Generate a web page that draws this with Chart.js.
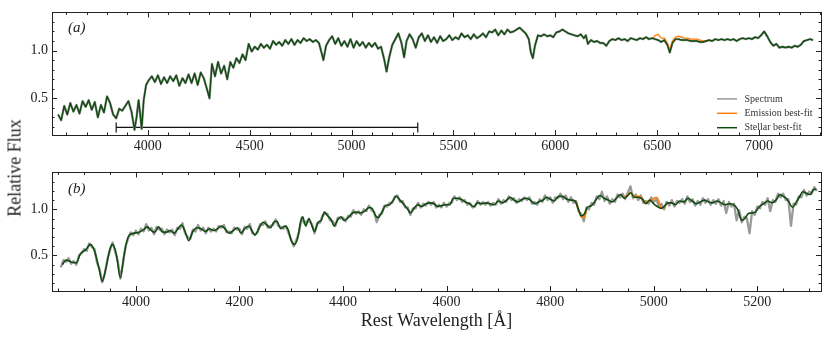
<!DOCTYPE html>
<html>
<head>
<meta charset="utf-8">
<title>Spectrum fit</title>
<script src="https://cdn.jsdelivr.net/npm/chart.js@4.4.1/dist/chart.umd.min.js"></script>
<style>
  body { margin: 0; background: #fff; }
  #wrap { position: relative; width: 830px; height: 341px; font-family: "Liberation Serif", serif; }
  #topBox { position: absolute; left: 0; top: 0; width: 830px; height: 160px; }
  #botBox { position: absolute; left: 0; top: 160px; width: 830px; height: 181px; }
  #ylabel {
    position: absolute; left: 14.5px; top: 168px;
    transform: translate(-50%, -50%) rotate(-90deg);
    font-size: 18px; white-space: nowrap; color: #222;
  }
</style>
</head>
<body>
<div id="wrap">
  <div id="topBox"><canvas id="topChart"></canvas></div>
  <div id="botBox"><canvas id="botChart"></canvas></div>
  <div id="ylabel">Relative Flux</div>
</div>
<script>
// ---- panel (a): full spectrum ----
const topWave = [
  3560, 3575, 3590, 3605, 3620, 3635, 3650, 3665, 3680, 3695, 3710, 3725, 3740, 3755, 3770, 3785, 3800, 3815, 3830, 3845, 3860, 3875, 3890, 3905, 3920,
  3935, 3945, 3955, 3962, 3970, 3980, 3992,
  4005, 4020, 4035, 4050, 4065, 4080, 4095, 4110, 4125, 4140, 4155, 4170, 4185, 4200, 4215, 4230, 4245, 4260, 4275, 4290,
  4303,
  4315, 4330, 4345, 4360, 4375, 4390, 4405, 4420, 4435, 4450, 4465, 4480, 4495, 4510, 4525, 4540, 4555, 4570, 4585, 4600,
  4615, 4630, 4645, 4660, 4675, 4690, 4705, 4720, 4735, 4750, 4765, 4780, 4795, 4810, 4825, 4840,
  4855, 4862, 4875,
  4890, 4905, 4920, 4935, 4950, 4965, 4980, 4995, 5010, 5025, 5040, 5055, 5070, 5085, 5100, 5115, 5130, 5145,
  5160, 5172, 5185, 5200, 5215, 5230, 5245, 5258, 5270, 5285, 5300, 5315,
  5330, 5345, 5360, 5375, 5390, 5405, 5420, 5435, 5450, 5465, 5480, 5495, 5510, 5525, 5540, 5555, 5570, 5585, 5600, 5615,
  5630, 5645, 5660, 5675, 5690, 5705, 5720, 5735, 5750, 5765, 5780, 5795, 5810, 5825, 5840, 5855, 5870,
  5880, 5890, 5900,
  5915, 5930, 5945, 5960, 5975, 5990, 6005, 6020, 6035, 6050, 6065, 6080, 6095, 6110, 6125, 6140,
  6150, 6160,
  6175, 6190, 6205, 6220, 6235, 6250, 6265, 6280, 6295, 6310, 6325, 6340, 6355, 6370, 6385, 6400, 6415, 6430, 6445, 6460, 6475, 6490, 6505, 6520, 6535,
  6550, 6562,
  6575, 6590, 6605, 6620, 6635, 6650, 6665, 6680, 6695, 6710, 6725, 6740, 6755, 6770, 6785, 6800, 6815, 6830, 6845, 6860,
  6875, 6890, 6905, 6920, 6935, 6950, 6965, 6980, 6995, 7010, 7025, 7040, 7055, 7070, 7085, 7100, 7115, 7130, 7145, 7160,
  7175, 7190, 7205, 7220, 7235, 7250, 7265
];
const topFlux = [
  0.33, 0.27, 0.42, 0.33, 0.45, 0.36, 0.43, 0.34, 0.47, 0.41, 0.48, 0.38, 0.46, 0.30, 0.43, 0.35, 0.52, 0.45, 0.33, 0.29, 0.39, 0.37, 0.42, 0.47, 0.36,
  0.17, 0.30, 0.48, 0.35, 0.18, 0.48, 0.64,
  0.69, 0.73, 0.67, 0.74, 0.65, 0.72, 0.66, 0.73, 0.68, 0.74, 0.63, 0.71, 0.66, 0.75, 0.66, 0.76, 0.64, 0.77, 0.71, 0.60,
  0.50,
  0.86, 0.73, 0.88, 0.76, 0.84, 0.70, 0.88, 0.82, 0.92, 0.87, 0.96, 0.90, 1.07, 0.99, 1.04, 1.01, 1.07, 1.03, 1.06, 1.02,
  1.10, 1.06, 1.09, 1.05, 1.11, 1.07, 1.12, 1.06, 1.11, 1.08, 1.13, 1.10, 1.12, 1.09, 1.11, 1.08,
  0.96, 0.90, 1.05,
  1.11, 1.15, 1.07, 1.13, 1.05, 1.10, 1.04, 1.12, 1.03, 1.10, 1.05, 1.09, 1.03, 1.08, 1.04, 1.08, 1.02, 1.04,
  0.91, 0.78, 0.93, 1.06, 1.12, 1.18, 1.08, 0.93, 1.10, 1.17, 1.12, 1.03,
  1.14, 1.18, 1.10, 1.16, 1.09, 1.14, 1.08, 1.15, 1.10, 1.12, 1.16, 1.11, 1.14, 1.12, 1.18, 1.14, 1.16, 1.12, 1.17, 1.13,
  1.15, 1.18, 1.14, 1.20, 1.19, 1.22, 1.16, 1.21, 1.17, 1.22, 1.19, 1.20, 1.22, 1.24, 1.21, 1.18, 1.12,
  0.98, 0.92, 1.05,
  1.16, 1.15, 1.17, 1.15, 1.16, 1.14, 1.19, 1.20, 1.22, 1.20, 1.18, 1.17, 1.16, 1.15, 1.17, 1.13,
  1.16, 1.07,
  1.11, 1.09, 1.10, 1.08, 1.08, 1.05, 1.10, 1.12, 1.11, 1.13, 1.11, 1.12, 1.10, 1.13, 1.12, 1.11, 1.13, 1.12, 1.14, 1.12, 1.13, 1.12, 1.11, 1.09, 1.11,
  1.06, 0.98,
  1.08, 1.12, 1.12, 1.11, 1.11, 1.11, 1.10, 1.10, 1.10, 1.09, 1.09, 1.10, 1.11, 1.10, 1.12, 1.11, 1.12, 1.11, 1.12, 1.11,
  1.12, 1.10, 1.12, 1.13, 1.12, 1.13, 1.12, 1.14, 1.13, 1.16, 1.20, 1.15, 1.09, 1.05, 1.07, 1.03, 1.04, 1.03, 1.04, 1.03,
  1.05, 1.04, 1.06, 1.10, 1.11, 1.12, 1.11
];
const topEmisWave = [6480, 6492, 6505, 6520, 6535, 6550, 6562, 6575, 6590, 6605, 6620, 6635, 6650, 6665, 6680, 6695, 6710, 6725, 6740, 6752];
const topEmisFlux = [1.13, 1.16, 1.17, 1.13, 1.13, 1.08, 1.00, 1.10, 1.14, 1.15, 1.14, 1.13, 1.13, 1.12, 1.12, 1.12, 1.11, 1.10, 1.10, 1.11];

// bracket showing the range of panel (b)
const bracketWave = [3845, 5325];
const bracketFlux = [0.194, 0.194];

// ---- panel (b): zoom on the blue part ----
const botFitWave = [
  3858, 3865, 3875, 3885, 3893, 3903, 3912, 3920, 3928, 3935,
  3942, 3950, 3955, 3962, 3970, 3977, 3985, 3995, 4005, 4015,
  4022, 4030, 4036, 4044, 4050, 4058, 4066, 4074, 4080, 4088,
  4095, 4102, 4110, 4118, 4126, 4134, 4142, 4150, 4158, 4165,
  4172, 4180, 4188, 4196, 4203, 4210, 4218, 4224, 4230, 4238,
  4246, 4253, 4260, 4266, 4272, 4280, 4287, 4294, 4300, 4306,
  4312, 4318, 4322, 4328, 4334, 4340, 4345, 4352, 4358, 4364,
  4370, 4377, 4383, 4390, 4396, 4402, 4410, 4418, 4426, 4434,
  4442, 4450, 4456, 4463, 4468, 4475, 4482, 4490, 4496, 4503,
  4510, 4518, 4525, 4530, 4537, 4544, 4552, 4560, 4568, 4576,
  4583, 4590, 4598, 4606, 4613, 4620, 4628, 4636, 4644, 4652,
  4660, 4668, 4676, 4684, 4692, 4700, 4708, 4716, 4723, 4730,
  4738, 4746, 4754, 4762, 4770, 4778, 4786, 4793, 4800, 4808,
  4816, 4824, 4832, 4840, 4848, 4854, 4860, 4866, 4872, 4880,
  4888, 4896, 4904, 4912, 4920, 4928, 4936, 4943, 4950, 4956,
  4962, 4970, 4978, 4985, 4992, 5000, 5007, 5014, 5020, 5027,
  5034, 5042, 5050, 5058, 5066, 5074, 5082, 5090, 5098, 5106,
  5114, 5122, 5130, 5138, 5146, 5154, 5162, 5170, 5176, 5182,
  5188, 5196, 5204, 5212, 5220, 5228, 5236, 5244, 5250, 5256,
  5262, 5268, 5274, 5280, 5288, 5296, 5302, 5308, 5314
];
const botFitFlux = [
  0.40, 0.45, 0.43, 0.42, 0.52, 0.56, 0.62, 0.55, 0.38, 0.22,
  0.36, 0.57, 0.62, 0.52, 0.26, 0.50, 0.70, 0.74, 0.75, 0.78,
  0.81, 0.77, 0.75, 0.81, 0.76, 0.75, 0.77, 0.74, 0.78, 0.83,
  0.76, 0.66, 0.76, 0.80, 0.79, 0.76, 0.79, 0.77, 0.79, 0.82,
  0.79, 0.74, 0.77, 0.80, 0.74, 0.79, 0.82, 0.77, 0.72, 0.80,
  0.86, 0.83, 0.80, 0.86, 0.87, 0.79, 0.82, 0.78, 0.66, 0.62,
  0.68, 0.86, 0.92, 0.82, 0.90, 0.82, 0.76, 0.86, 0.88, 0.97,
  0.93, 0.89, 0.82, 0.89, 0.92, 0.88, 0.91, 0.96, 0.97, 0.96,
  0.98, 1.02, 1.01, 0.93, 0.91, 0.97, 1.04, 1.05, 1.09, 1.14,
  1.10, 1.05, 1.00, 0.96, 1.01, 1.05, 1.03, 1.06, 1.07, 1.06,
  1.03, 1.04, 1.05, 1.05, 1.12, 1.12, 1.11, 1.08, 1.06, 1.03,
  1.07, 1.06, 1.07, 1.06, 1.05, 1.09, 1.07, 1.10, 1.13, 1.10,
  1.08, 1.11, 1.12, 1.10, 1.06, 1.08, 1.10, 1.13, 1.11, 1.09,
  1.14, 1.14, 1.11, 1.10, 1.09, 1.01, 0.93, 0.95, 1.02, 1.04,
  1.10, 1.15, 1.12, 1.10, 1.08, 1.12, 1.16, 1.12, 1.15, 1.18,
  1.13, 1.13, 1.11, 1.06, 1.10, 1.06, 1.03, 1.01, 1.03, 1.07,
  1.07, 1.05, 1.09, 1.08, 1.12, 1.09, 1.06, 1.08, 1.10, 1.08,
  1.07, 1.09, 1.07, 1.05, 1.06, 1.05, 1.00, 0.88, 0.90, 0.95,
  0.96, 0.97, 1.03, 1.06, 1.09, 1.07, 1.10, 1.16, 1.14, 1.12,
  1.07, 1.02, 1.07, 1.12, 1.19, 1.17, 1.16, 1.21, 1.22
];
// observed spectrum, one value every 5 A from 3855 A
const botSpecStart = 3855;
const botSpecStep = 5;
const botSpecFlux = [
  0.37, 0.45, 0.43, 0.47, 0.41, 0.44, 0.40, 0.50, 0.52, 0.57,
  0.55, 0.63, 0.59, 0.57, 0.42, 0.35, 0.21, 0.30, 0.46, 0.56,
  0.64, 0.54, 0.44, 0.25, 0.41, 0.60, 0.68, 0.75, 0.72, 0.77,
  0.73, 0.79, 0.76, 0.84, 0.77, 0.80, 0.73, 0.81, 0.78, 0.79,
  0.73, 0.78, 0.75, 0.78, 0.72, 0.80, 0.79, 0.85, 0.74, 0.70,
  0.68, 0.78, 0.76, 0.83, 0.77, 0.80, 0.74, 0.80, 0.76, 0.79,
  0.76, 0.82, 0.80, 0.83, 0.75, 0.76, 0.74, 0.80, 0.78, 0.79,
  0.73, 0.81, 0.79, 0.84, 0.74, 0.73, 0.75, 0.84, 0.83, 0.87,
  0.80, 0.82, 0.83, 0.89, 0.82, 0.81, 0.79, 0.82, 0.74, 0.67,
  0.60, 0.67, 0.75, 0.91, 0.85, 0.87, 0.87, 0.84, 0.74, 0.85,
  0.85, 0.93, 0.95, 0.95, 0.88, 0.87, 0.82, 0.91, 0.90, 0.91,
  0.87, 0.93, 0.92, 0.99, 0.95, 0.98, 0.94, 1.00, 0.98, 1.04,
  0.99, 0.97, 0.86, 0.94, 0.95, 1.04, 1.03, 1.07, 1.07, 1.14,
  1.15, 1.08, 1.09, 1.02, 1.02, 0.94, 1.01, 1.01, 1.07, 1.02,
  1.06, 1.04, 1.08, 1.05, 1.08, 1.02, 1.05, 1.02, 1.07, 1.03,
  1.07, 1.07, 1.14, 1.10, 1.13, 1.08, 1.10, 1.05, 1.07, 1.02,
  1.03, 1.09, 1.05, 1.08, 1.05, 1.08, 1.04, 1.07, 1.05, 1.11,
  1.06, 1.10, 1.08, 1.14, 1.10, 1.12, 1.07, 1.11, 1.09, 1.13,
  1.10, 1.13, 1.06, 1.08, 1.05, 1.11, 1.08, 1.15, 1.10, 1.13,
  1.07, 1.13, 1.12, 1.17, 1.11, 1.15, 1.08, 1.13, 1.07, 1.09,
  0.98, 0.95, 0.87, 1.02, 1.00, 1.07, 1.05, 1.14, 1.11, 1.19,
  1.09, 1.14, 1.06, 1.11, 1.08, 1.16, 1.13, 1.17, 1.11, 1.18,
  1.25, 1.12, 1.16, 1.10, 1.15, 1.07, 1.09, 1.06, 1.13, 1.08,
  1.11, 1.03, 1.06, 1.00, 1.08, 1.04, 1.10, 1.03, 1.09, 1.07,
  1.11, 1.06, 1.14, 1.08, 1.11, 1.04, 1.09, 1.05, 1.12, 1.07,
  1.11, 1.05, 1.10, 1.06, 1.11, 1.04, 1.09, 0.96, 1.08, 1.03,
  1.06, 0.88, 0.99, 0.86, 0.92, 0.90, 0.74, 0.98, 0.94, 1.03,
  1.01, 1.08, 1.05, 1.12, 0.98, 1.10, 1.08, 1.17, 1.13, 1.17,
  1.10, 1.11, 0.82, 1.06, 1.05, 1.14, 1.13, 1.21, 1.15, 1.19,
  1.17, 1.24, 1.20
];
// emission model where it departs from the stellar fit (null breaks the line)
const botEmisWave = [4850, 4855, 4860, 4865, 4870, 4900, 4944, 4950, 4955, 4960, 4966, 4972, 4978, 4984, 4990, 4996, 5001, 5005, 5009, 5013, 5017, 5021];
const botEmisFlux = [1.08, 0.99, 0.92, 0.91, 0.98, null, 1.13, 1.16, 1.18, 1.15, 1.14, 1.14, 1.12, 1.07, 1.09, 1.10, 1.12, 1.13, 1.10, 1.03, 1.01, 1.03];

// axes
const topRange = [3530, 7304];
const botRange = [3838, 5323];
const fluxRange = [0.115, 1.40];
const topTicks = [4000, 4500, 5000, 5500, 6000, 6500, 7000];
const botTicks = [4000, 4200, 4400, 4600, 4800, 5000, 5200];
const fluxTicks = [0.5, 1.0];

const SERIF = '"Liberation Serif", "Times New Roman", serif';
const SPEC_COLOR = '#9a9a9a';
const EMIS_COLOR = '#ff7f0e';
const STEL_COLOR = '#0f4a0f';
const TEXT_COLOR = '#222';

function xy(wave, flux) {
  return wave.map((w, i) => ({ x: w, y: flux[i] }));
}

// inward ticks on all four sides, the frame, the panel label and the legend
const framePlugin = {
  id: 'frame',
  afterDraw(chart, args, opts) {
    const { ctx, chartArea: a } = chart;
    const sx = chart.scales.x, sy = chart.scales.y;
    ctx.save();
    ctx.strokeStyle = TEXT_COLOR;
    ctx.lineWidth = 1;
    ctx.beginPath();
    const marks = (scale, step, len, horizontal) => {
      const n0 = Math.ceil(scale.min / step - 1e-9);
      const n1 = Math.floor(scale.max / step + 1e-9);
      for (let n = n0; n <= n1; n++) {
        const p = Math.round(scale.getPixelForValue(n * step)) + 0.5;
        if (horizontal) {
          ctx.moveTo(p, a.bottom); ctx.lineTo(p, a.bottom - len);
          ctx.moveTo(p, a.top); ctx.lineTo(p, a.top + len);
        } else {
          ctx.moveTo(a.left, p); ctx.lineTo(a.left + len, p);
          ctx.moveTo(a.right, p); ctx.lineTo(a.right - len, p);
        }
      }
    };
    marks(sx, opts.xMajor, 5, true);
    marks(sx, opts.xMinor, 2.5, true);
    marks(sy, 0.5, 5, false);
    marks(sy, 0.1, 2.5, false);
    ctx.stroke();
    ctx.strokeRect(Math.round(a.left) + 0.5, Math.round(a.top) + 0.5,
      Math.round(a.right - a.left), Math.round(a.bottom - a.top));

    ctx.fillStyle = TEXT_COLOR;
    ctx.font = 'italic 15px ' + SERIF;
    ctx.textAlign = 'left';
    ctx.textBaseline = 'middle';
    ctx.fillText(opts.label, a.left + 16, a.top + opts.labelDy);

    if (opts.legend) {
      ctx.font = '10px ' + SERIF;
      opts.legend.forEach((name, i) => {
        const ds = chart.data.datasets.find(d => d.label === name);
        const yy = a.top + 86.5 + i * 14.4;
        ctx.strokeStyle = ds.borderColor;
        ctx.lineWidth = 1.5;
        ctx.beginPath();
        ctx.moveTo(a.right - 104, yy);
        ctx.lineTo(a.right - 84, yy);
        ctx.stroke();
        ctx.fillStyle = '#333';
        ctx.fillText(name, a.right - 76.5, yy);
      });
    }
    ctx.restore();
  }
};
Chart.register(framePlugin);

function panelOptions(range, majors, xMajor, xMinor, xHeight, padTop, frame, xTitle) {
  return {
    responsive: true,
    maintainAspectRatio: false,
    animation: false,
    normalized: true,
    layout: { autoPadding: false, padding: { left: 0, right: 9, top: padTop, bottom: 0 } },
    elements: {
      point: { radius: 0, hoverRadius: 0 },
      line: { tension: 0, borderJoinStyle: 'round', fill: false }
    },
    plugins: {
      legend: { display: false },
      tooltip: { enabled: false },
      frame: Object.assign({ xMajor, xMinor }, frame)
    },
    scales: {
      x: {
        type: 'linear',
        min: range[0],
        max: range[1],
        grid: { display: false, drawTicks: false },
        border: { display: false },
        afterBuildTicks: s => { s.ticks = majors.map(v => ({ value: v })); },
        ticks: {
          maxRotation: 0, autoSkip: false, padding: 3,
          color: TEXT_COLOR, font: { family: SERIF, size: 14 },
          callback: v => String(v)
        },
        title: xTitle ? {
          display: true, text: xTitle, color: TEXT_COLOR,
          font: { family: SERIF, size: 18 }, padding: { top: 0, bottom: 9 }
        } : { display: false },
        afterFit: s => { s.height = xHeight; }
      },
      y: {
        min: fluxRange[0],
        max: fluxRange[1],
        grid: { display: false, drawTicks: false },
        border: { display: false },
        afterBuildTicks: s => { s.ticks = fluxTicks.map(v => ({ value: v })); },
        ticks: {
          padding: 4, autoSkip: false,
          color: TEXT_COLOR, font: { family: SERIF, size: 14 },
          callback: v => v.toFixed(1)
        },
        afterFit: s => { s.width = 52; }
      }
    }
  };
}

// first dataset is painted last, so the stellar fit sits on top
new Chart(document.getElementById('topChart'), {
  type: 'line',
  data: {
    datasets: [
      { label: 'Stellar best-fit', data: xy(topWave, topFlux), borderColor: STEL_COLOR, borderWidth: 1.4 },
      { label: 'Emission best-fit', data: xy(topEmisWave, topEmisFlux), borderColor: EMIS_COLOR, borderWidth: 1.4 },
      { label: 'Spectrum', data: xy(topWave, topFlux), borderColor: SPEC_COLOR, borderWidth: 2.4 },
      {
        label: 'range', data: xy(bracketWave, bracketFlux), borderColor: '#111', borderWidth: 1.2,
        pointStyle: 'line', pointRadius: 5, pointRotation: 90,
        pointBorderColor: '#111', pointBorderWidth: 1.2
      }
    ]
  },
  options: panelOptions(topRange, topTicks, 500, 100, 25, 7,
    { label: '(a)', labelDy: 16, legend: ['Spectrum', 'Emission best-fit', 'Stellar best-fit'] })
});

new Chart(document.getElementById('botChart'), {
  type: 'line',
  data: {
    datasets: [
      { label: 'Stellar best-fit', data: xy(botFitWave, botFitFlux), borderColor: STEL_COLOR, borderWidth: 1.6, cubicInterpolationMode: 'monotone' },
      { label: 'Emission best-fit', data: xy(botEmisWave, botEmisFlux), borderColor: EMIS_COLOR, borderWidth: 1.7, spanGaps: false, cubicInterpolationMode: 'monotone' },
      {
        label: 'Spectrum',
        data: botSpecFlux.map((f, i) => ({ x: botSpecStart + i * botSpecStep, y: f })),
        borderColor: SPEC_COLOR, borderWidth: 2.3
      }
    ]
  },
  options: panelOptions(botRange, botTicks, 200, 50, 50, 2, { label: '(b)', labelDy: 17 }, 'Rest Wavelength [Å]')
});
</script>
</body>
</html>
